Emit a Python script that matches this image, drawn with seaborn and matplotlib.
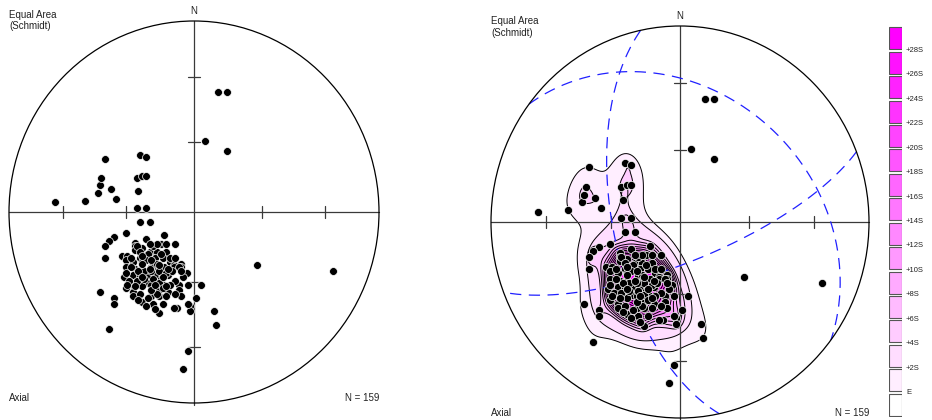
import numpy as np
import pandas as pd
import matplotlib
matplotlib.use('Agg')
import matplotlib.pyplot as plt
from matplotlib.patches import Circle
import seaborn as sns

sns.set_theme(style='white')
plt.rcParams['font.family'] = ['Liberation Sans', 'DejaVu Sans']

# poles, equal-area net coordinates in % of the net radius
x_scatter = [-75, -59, -52, -51, -50, -48, -45, -42, -29, -26, -31, -28, -26, -30, -31, -26, -29, -24, 13, 18,
             6, 18, 34, 75, -3, -6, -46, -51, -43, -43, 11, 12, 4, 1, -2, -2, -3, -9, -11, -3,
             -4, -7, -7, -37, -43, -46, -48, -48, -39]
y_scatter = [5, 6, 10, 14, 18, 28, 12, 7, 30, 29, 18, 19, 19, 11, 2, 2, -5, -5, 63, 63,
             37, 32, -28, -31, -73, -82, -61, -42, -45, -48, -52, -59, -38, -45, -49, -52, -48, -50, -50, -38,
             -32, -27, -29, -11, -13, -15, -18, -24, -23]
x_core_a = [-16, -26, -32, -32, -28, -18, -15, -10, -36, -32, -29, -24, -20, -15, -37, -33, -28, -25, -21, -17,
            -13, -11, -37, -32, -28, -23, -20, -16, -11, -8, -38, -33, -29, -25, -21, -18, -14, -25, -29, -33,
            -20, -16, -8, -37, -33, -28, -23, -19, -14, -8, -7, -33, -28, -23, -19, -22, -17, -19]
y_core_a = [-12, -14, -16, -18, -19, -17, -17, -17, -23, -20, -24, -21, -21, -21, -25, -26, -26, -24, -24, -24,
            -26, -28, -29, -30, -30, -29, -29, -29, -29, -29, -34, -33, -33, -33, -33, -35, -33, -37, -36, -38,
            -38, -38, -38, -40, -42, -39, -38, -41, -42, -41, -44, -44, -47, -44, -44, -48, -48, -53]
x_core_b = [-31, -25, -22, -19, -23, -27, -30, -34, -35, -31, -27, -22, -19, -15, -12, -10, -13, -17, -20, -25,
            -29, -32, -23, -26, -29, -22, -18, -13, -10, -20, -24, -34, -37, -36, -30, -26, -21, -15, -10, -6,
            -7, -28, -20, -17, -21, -28, -24, -19, -14, -23, -15, -28]
y_core_b = [-18, -22, -27, -31, -31, -31, -31, -29, -36, -36, -35, -35, -37, -32, -31, -36, -38, -40, -43, -45,
            -43, -39, -41, -25, -21, -18, -22, -24, -24, -17, -17, -24, -32, -38, -46, -49, -51, -44, -43, -34,
            -31, -27, -27, -34, -38, -34, -30, -28, -30, -25, -39, -23]

# great circles (strike, dip, right-hand rule)
gc_strike = [168, 307, 69]
gc_dip = [61, 33, 73]

# contour legend
legend_labels = ['+28S', '+26S', '+24S', '+22S', '+20S', '+18S', '+16S', '+14S',
                 '+12S', '+10S', '+8S', '+6S', '+4S', '+2S', 'E']
n_points = 159

pts = pd.DataFrame({
    'x': np.array(x_scatter + x_core_a + x_core_b) / 100.0,
    'y': np.array(y_scatter + y_core_a + y_core_b) / 100.0,
})

# 16 shades white -> magenta
shades = [(1.0, 1.0 - i / 15.0, 1.0) for i in range(16)]
BW_WIDE = 0.95   # smoothing for the E / 2S envelope
BW_CORE = 0.52   # smoothing for 4S .. 28S


def great_circle(strike, dip, n=300):
    s = np.radians(strike)
    d = np.radians(dip)
    t = np.linspace(0, np.pi, n)
    sv = np.array([np.sin(s), np.cos(s), 0.0])
    dd = s + np.pi / 2
    dv = np.array([np.sin(dd) * np.cos(d), np.cos(dd) * np.cos(d), np.sin(d)])
    v = np.outer(np.cos(t), sv) + np.outer(np.sin(t), dv)
    plunge = np.arcsin(np.clip(v[:, 2], -1, 1))
    trend = np.arctan2(v[:, 0], v[:, 1])
    r = np.sqrt(2) * np.sin((np.pi / 2 - plunge) / 2)
    return r * np.sin(trend), r * np.cos(trend)


def iso_props(x, y, bw_adjust, fracs):
    # same grid / bandwidth as seaborn, turns density fractions of the peak into iso-proportions
    data = np.vstack([x, y])
    cov = np.cov(data) * (len(x) ** (-1 / 6) * bw_adjust) ** 2
    bw = np.sqrt(np.diag(cov))
    g1 = np.linspace(max(x.min() - 3 * bw[0], -1), min(x.max() + 3 * bw[0], 1), 200)
    g2 = np.linspace(max(y.min() - 3 * bw[1], -1), min(y.max() + 3 * bw[1], 1), 200)
    xx, yy = np.meshgrid(g1, g2)
    inv = np.linalg.inv(cov)
    dx = xx.ravel()[:, None] - x[None, :]
    dy = yy.ravel()[:, None] - y[None, :]
    q = inv[0, 0] * dx * dx + 2 * inv[0, 1] * dx * dy + inv[1, 1] * dy * dy
    dens = np.exp(-0.5 * q).sum(axis=1)
    peak = dens.max()
    return [1 - dens[dens >= f * peak].sum() / dens.sum() + 1e-9 for f in fracs]


def draw_net(ax, sx, sy):
    ax.set_xlim(-1, 1)
    ax.set_ylim(-1, 1)
    ax.axis('off')
    ax.add_patch(Circle((0, 0), 1, fill=False, ec='black', lw=0.9, zorder=6, clip_on=False))
    lc = '#3a3a3a'
    ax.plot([-1, 1], [0, 0], color=lc, lw=0.9, zorder=3, clip_on=False)
    ax.plot([0, 0], [-1.01, 1], color=lc, lw=0.9, zorder=3, clip_on=False)
    for r in [0.366, 0.707]:
        for sgn in [-1, 1]:
            ax.plot([sgn * r, sgn * r], [-sy, sy], color=lc, lw=0.9, zorder=3)
            ax.plot([-sx, sx], [sgn * r, sgn * r], color=lc, lw=0.9, zorder=3)
    ax.text(0, 1.025, 'N', ha='center', va='bottom', fontsize=7, color='#222222')


fig = plt.figure(figsize=(9.32, 4.2), dpi=100)

# left net: plain poles
ax1 = fig.add_axes([9 / 932, 17 / 420, 370 / 932, 382 / 420])
draw_net(ax1, 6 / 185, 6 / 191)
sns.scatterplot(data=pts, x='x', y='y', ax=ax1, color='black', s=32,
                edgecolor='white', linewidth=0.5, zorder=8, legend=False)
ax1.set_xlim(-1, 1)
ax1.set_ylim(-1, 1)

# right net: contoured poles with great circles
ax2 = fig.add_axes([491 / 932, 2 / 420, 378 / 932, 392 / 420])
draw_net(ax2, 6 / 189, 6 / 196)
px, py = pts['x'].values, pts['y'].values

wide = iso_props(px, py, BW_WIDE, [0.05, 0.11]) + [1.0]
sns.kdeplot(data=pts, x='x', y='y', ax=ax2, fill=True, levels=wide, color='m',
            colors=shades[1:3], bw_adjust=BW_WIDE, clip=(-1, 1), zorder=1)
sns.kdeplot(data=pts, x='x', y='y', ax=ax2, fill=False, levels=wide[:-1], color='black',
            colors='black', linewidths=0.7, bw_adjust=BW_WIDE, clip=(-1, 1), zorder=2)

core = iso_props(px, py, BW_CORE, list(np.linspace(0.13, 0.72, 13))) + [1.0]
sns.kdeplot(data=pts, x='x', y='y', ax=ax2, fill=True, levels=core, color='m',
            colors=shades[3:16], bw_adjust=BW_CORE, clip=(-1, 1), zorder=1.5)
sns.kdeplot(data=pts, x='x', y='y', ax=ax2, fill=False, levels=core[:-1], color='black',
            colors='black', linewidths=0.7, bw_adjust=BW_CORE, clip=(-1, 1), zorder=2)

for st, dp in zip(gc_strike, gc_dip):
    gx, gy = great_circle(st, dp)
    ax2.plot(gx, gy, color='#2020ff', lw=0.9, ls=(0, (9, 6)), zorder=4)
sns.scatterplot(data=pts, x='x', y='y', ax=ax2, color='black', s=34,
                edgecolor='white', linewidth=0.5, zorder=8, legend=False)
ax2.set_xlim(-1, 1)
ax2.set_ylim(-1, 1)
ax2.set_xlabel('')
ax2.set_ylabel('')

# corner labels
tc = '#222222'
fig.text(9 / 932, 1 - 15 / 420, 'Equal Area', fontsize=7, color=tc, va='center')
fig.text(9 / 932, 1 - 26 / 420, '(Schmidt)', fontsize=7, color=tc, va='center')
fig.text(9 / 932, 1 - 398 / 420, 'Axial', fontsize=7, color=tc, va='center')
fig.text(379 / 932, 1 - 398 / 420, f'N = {n_points}', fontsize=7, color=tc, va='center', ha='right')
fig.text(491 / 932, 1 - 20.5 / 420, 'Equal Area', fontsize=7, color=tc, va='center')
fig.text(491 / 932, 1 - 32.5 / 420, '(Schmidt)', fontsize=7, color=tc, va='center')
fig.text(491 / 932, 1 - 412.5 / 420, 'Axial', fontsize=7, color=tc, va='center')
fig.text(869 / 932, 1 - 412.5 / 420, f'N = {n_points}', fontsize=7, color=tc, va='center', ha='right')

# contour legend boxes
axl = fig.add_axes([889 / 932, 3 / 420, 13 / 932, 391 / 420])
axl.set_xlim(0, 1)
axl.set_ylim(0, 16)
axl.axis('off')
for i in range(16):
    axl.bar(0.5, 0.9, bottom=i + 0.05, width=1.0, color=shades[i], edgecolor='#555555', linewidth=0.8)
for k, lab in enumerate(legend_labels):
    axl.text(1.3, 15 - k, lab, fontsize=5.5, color=tc, va='center', ha='left')

plt.savefig('out.png', dpi=100)
